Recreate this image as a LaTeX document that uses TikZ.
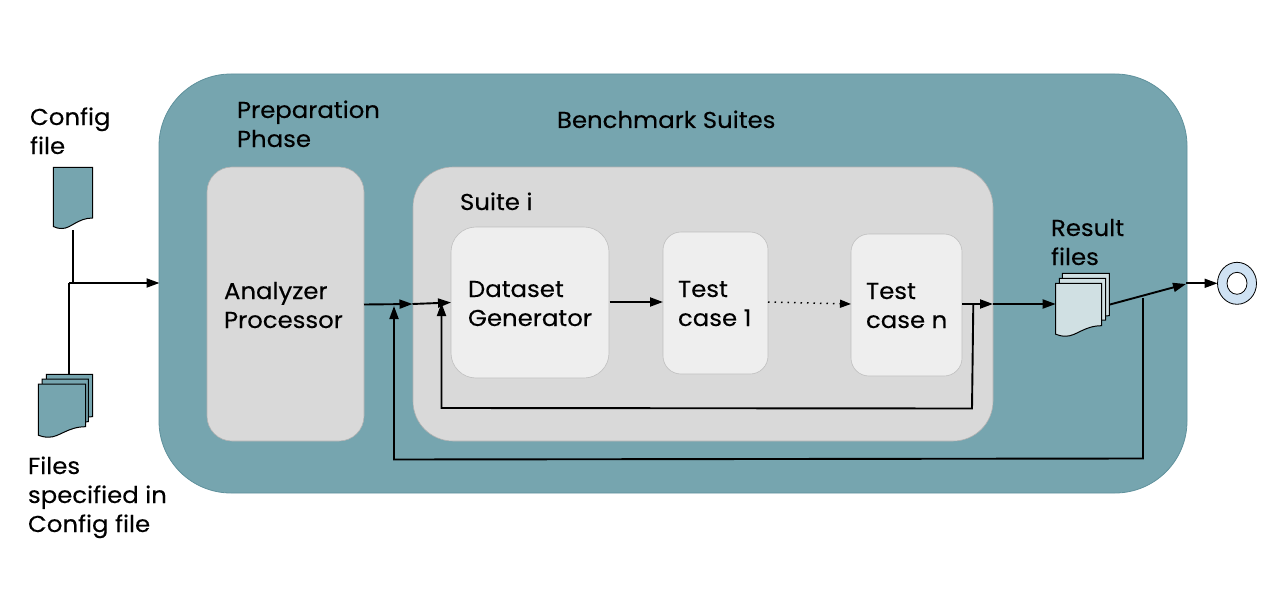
\documentclass[tikz,border=0pt]{standalone}
\usepackage{fontspec}
\setmainfont[FakeStretch=1.06,FakeBold=0.25]{Poppins}
\usetikzlibrary{arrows.meta,shapes.geometric}
\definecolor{tealfill}{HTML}{76A5AF}
\definecolor{tealedge}{HTML}{5F919C}
\definecolor{panel}{HTML}{D9D9D9}
\definecolor{card}{HTML}{EEEEEE}
\definecolor{paper}{HTML}{D0E0E3}
\definecolor{donut}{HTML}{CFE2F3}
\tikzset{
  x=1pt,y=-1pt,
  box/.style={rectangle,inner sep=0pt,outer sep=0pt,anchor=north west},
  outerbox/.style={box,fill=tealfill,draw=tealedge,line width=.8pt,rounded corners=72pt,minimum width=1028pt,minimum height=419pt},
  panelbox/.style={box,fill=panel,draw=black!30,line width=.6pt},
  cardbox/.style={box,fill=card,draw=black!25,line width=.6pt},
  lbl/.style={anchor=base west,inner sep=0pt,outer sep=0pt,align=left,font=\fontsize{23}{29}\selectfont,text=black},
  flow/.style={line width=1.9pt,draw=black,-{Triangle[length=13pt,width=9pt]}},
  wire/.style={line width=1.9pt,draw=black},
  docedge/.style={draw=black,line width=1pt,line join=miter},
}
% #1 name, #2 x, #3 y, #4 w, #5 h to right-bottom, #6 fill
\newcommand{\docpage}[6]{%
  \path[docedge,fill=#6] (#2,#3) -- ({#2+#4},#3) -- ({#2+#4},{#3+#5})
    .. controls ({#2+.62*#4},{#3+#5}) and ({#2+.45*#4},{#3+#5+10.5}) .. ({#2+.22*#4},{#3+#5+10.5})
    .. controls ({#2+.12*#4},{#3+#5+10.5}) and ({#2+.05*#4},{#3+#5+9.5}) .. (#2,{#3+#5+8.5}) -- cycle;
  \node[box,minimum width=#4pt,minimum height={(#5+8)*1pt}] (#1) at (#2,#3) {};%
}
\begin{document}
\begin{tikzpicture}
\useasboundingbox (0,0) rectangle (1266,591);
\node[outerbox] (suites) at (159,74) {};
\node[panelbox,rounded corners=25pt,minimum width=157pt,minimum height=274pt] (prep) at (207,167) {};
\node[panelbox,rounded corners=40pt,minimum width=580pt,minimum height=274pt] (suite) at (413,167) {};
\node[cardbox,rounded corners=25pt,minimum width=158pt,minimum height=151pt] (gen) at (451,227) {};
\node[cardbox,rounded corners=18pt,minimum width=105pt,minimum height=142pt] (t1) at (663,232) {};
\node[cardbox,rounded corners=18pt,minimum width=111pt,minimum height=142pt] (tn) at (851,234) {};

\docpage{cfg}{53.3}{167.3}{39.4}{50.7}{tealfill}
\docpage{f3}{46.3}{374.3}{46.4}{42.4}{tealfill}
\docpage{f2}{42}{379}{46.3}{42.7}{tealfill}
\docpage{f1}{38.3}{384}{47.4}{42.7}{tealfill}
\docpage{r3}{1062.3}{273.3}{47}{42.4}{paper}
\docpage{r2}{1059.3}{278.3}{46.4}{41.7}{paper}
\docpage{r1}{1055.7}{283.3}{46}{42.4}{paper}

\node[ellipse,draw=black,line width=.8pt,fill=donut,minimum width=39pt,minimum height=42pt,inner sep=0pt,outer sep=0pt] (out) at (1237,283.3) {};
\node[ellipse,draw=black,line width=.8pt,fill=white,minimum width=20pt,minimum height=22pt,inner sep=0pt,outer sep=0pt] (outin) at (1237,283.3) {};

% text
\node[lbl] (tcfg) at (30,154) {Config\\file};
\node[lbl] (tfiles) at (28,532) {Files\\specified in\\Config file};
\node[lbl] (tprep) at (237,147) {Preparation\\Phase};
\node[lbl] (tbench) at (557,128) {Benchmark Suites};
\node[lbl] (tsuite) at (460,210) {Suite i};
\node[lbl] (tana) at (224,328) {Analyzer\\Processor};
\node[lbl] (tgen) at (468,326) {Dataset\\Generator};
\node[lbl] (tt1) at (678,326) {Test\\case 1};
\node[lbl] (ttn) at (866,328) {Test\\case n};
\node[lbl] (tres) at (1051,265) {Result\\files};

% junction points
\coordinate (cfgdown) at (73,283);
\coordinate (jleft) at (69,283);
\coordinate (inA) at (159.5,283);
\coordinate (prepout) at (364,304.5);
\coordinate (suitein) at (412.5,304);
\coordinate (genin) at (451,302.5);
\coordinate (genout) at (609.5,302);
\coordinate (t1in) at (663,302);
\coordinate (t1out) at (768,302);
\coordinate (tnin) at (851,304);
\coordinate (tnout) at (962,304);
\coordinate (suiteout) at (993,304);
\coordinate (resin) at (1055.7,304);
\coordinate (resout) at (1110,304.5);
\coordinate (benchout) at (1186,284);
\coordinate (tap) at (973.3,304);
\coordinate (loopA) at (972,408.5);
\coordinate (loopB) at (441.5,408);
\coordinate (loopC) at (441.5,303);
\coordinate (tapB) at (1143,298);
\coordinate (loopD) at (1143,458.5);
\coordinate (loopE) at (394,459.5);
\coordinate (loopF) at (394,306);

\draw[wire] (73,230) -- (cfgdown);
\draw[wire] (69,374.3) -- (jleft);
\draw[flow] (jleft) -- (inA);
\draw[flow] (prepout) -- (suitein);
\draw[flow] (suitein) -- (genin);
\draw[flow] (genout) -- (t1in);
\draw[line width=1.5pt,draw=black,dash pattern=on 1.5pt off 5pt,-{Triangle[length=11pt,width=8pt]}] (t1out) -- (tnin);
\draw[flow] (tnout) -- (suiteout);
\draw[flow] (suiteout) -- (resin);
\draw[flow] (resout) -- (benchout);
\draw[flow] (1186,283.3) -- (out.west);
\draw[flow] (tap) -- (loopA) -- (loopB) -- (loopC);
\draw[flow] (tapB) -- (loopD) -- (loopE) -- (loopF);
\end{tikzpicture}
\end{document}
